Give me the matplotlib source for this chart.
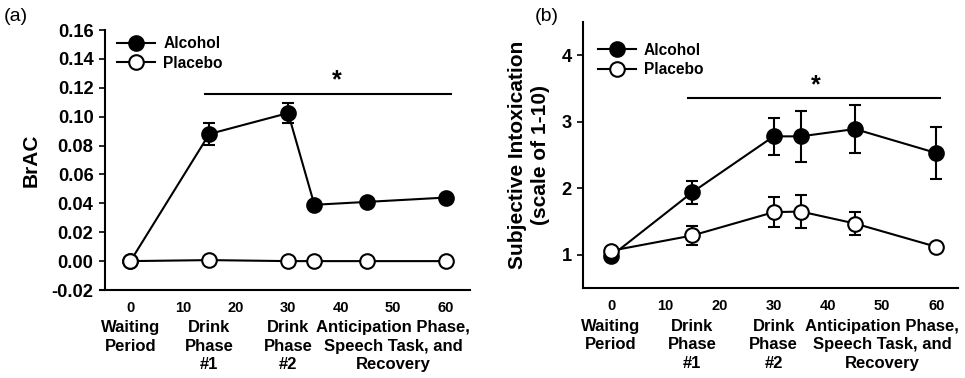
import matplotlib.pyplot as plt
import matplotlib.transforms as mtransforms
from matplotlib.lines import Line2D

times = [0, 15, 30, 35, 45, 60]

brac_alcohol = [0.0, 0.088, 0.1025, 0.039, 0.041, 0.044]
brac_alcohol_err = [0.0, 0.0075, 0.007, 0.0015, 0.0015, 0.0015]
brac_placebo = [0.0, 0.0007, 0.0, 0.0, 0.0, 0.0]
brac_placebo_err = [0.0, 0.0, 0.0, 0.0, 0.0, 0.0]

intox_alcohol = [0.98, 1.94, 2.78, 2.78, 2.89, 2.53]
intox_alcohol_err = [0.03, 0.17, 0.28, 0.38, 0.36, 0.39]
intox_placebo = [1.06, 1.29, 1.64, 1.65, 1.47, 1.12]
intox_placebo_err = [0.03, 0.14, 0.23, 0.245, 0.17, 0.03]

phase_pos = [0, 15, 30, 50]
phase_labels = ["Waiting\nPeriod", "Drink\nPhase\n#1", "Drink\nPhase\n#2",
                "Anticipation Phase,\nSpeech Task, and\nRecovery"]

plt.rcParams['font.family'] = ['Liberation Sans', 'DejaVu Sans']
plt.rcParams['font.weight'] = 'bold'

fig = plt.figure(figsize=(9.65, 3.78), dpi=100)
ax1 = fig.add_axes([0.1036, 0.2328, 0.3834, 0.6878])
ax2 = fig.add_axes([0.604, 0.238, 0.3887, 0.704])


def draw(ax, alc, alc_err, pla, pla_err, leg_anchor):
    ax.errorbar(times, alc, yerr=alc_err, color='black', marker='o', ms=10.5,
                mfc='black', mec='black', mew=1.5, lw=1.5, capsize=4,
                elinewidth=1.5, capthick=1.5, zorder=3)
    ax.errorbar(times, pla, yerr=pla_err, color='black', marker='o', ms=10.5,
                mfc='white', mec='black', mew=1.5, lw=1.5, capsize=4,
                elinewidth=1.5, capthick=1.5, zorder=4)
    for s in ['top', 'right']:
        ax.spines[s].set_visible(False)
    for s in ['left', 'bottom']:
        ax.spines[s].set_linewidth(1.5)
    ax.tick_params(axis='y', direction='out', length=4, width=1.2, labelsize=13.2, pad=4)
    ax.tick_params(axis='x', length=0, labelsize=10.5, pad=8)
    ax.set_xticks([0, 10, 20, 30, 40, 50, 60])
    trans = mtransforms.blended_transform_factory(ax.transData, ax.transAxes)
    for p, t in zip(phase_pos, phase_labels):
        ax.text(p, -0.115, t, transform=trans, ha='center', va='top',
                fontsize=12, fontweight='bold', linespacing=1.3)
    handles = [
        Line2D([], [], color='black', lw=1.5, marker='o', ms=10.5, mfc='black',
               mec='black', mew=1.5),
        Line2D([], [], color='black', lw=1.5, marker='o', ms=10.5, mfc='white',
               mec='black', mew=1.5),
    ]
    ax.legend(handles, ['Alcohol', 'Placebo'], loc='upper left',
              bbox_to_anchor=leg_anchor, frameon=False,
              prop={'size': 11.2, 'weight': 'bold'}, handlelength=2.45,
              handletextpad=0.5, borderaxespad=0, labelspacing=0.3)


draw(ax1, brac_alcohol, brac_alcohol_err, brac_placebo, brac_placebo_err, (0.03, 1.0))
ax1.set_xlim(-5.8, 64.6)
ax1.spines['left'].set_position(('data', -4.9))
ax1.set_ylim(-0.02, 0.16)
ax1.set_yticks([-0.02, 0.0, 0.02, 0.04, 0.06, 0.08, 0.10, 0.12, 0.14, 0.16])
ax1.set_yticklabels(['-0.02', '0.00', '0.02', '0.04', '0.06', '0.08', '0.10',
                     '0.12', '0.14', '0.16'])
ax1.set_ylabel('BrAC', fontsize=15, fontweight='bold', labelpad=8)
ax1.plot([14.2, 61], [0.116, 0.116], color='black', lw=1.5)
ax1.text(39.2, 0.117, '*', ha='center', va='bottom', fontsize=18, fontweight='bold')
fig.text(0.004, 0.98, '(a)', ha='left', va='top', fontsize=14, fontweight='normal')

draw(ax2, intox_alcohol, intox_alcohol_err, intox_placebo, intox_placebo_err, (0.024, 0.945))
ax2.set_xlim(-5.2, 64)
ax2.set_ylim(0.5, 4.5)
ax2.set_yticks([1, 2, 3, 4])
ax2.set_ylabel('Subjective Intoxication\n(scale of 1-10)', fontsize=15,
               fontweight='bold', labelpad=8, linespacing=1.3)
ax2.plot([14.2, 60.6], [3.35, 3.35], color='black', lw=1.5)
ax2.text(37.8, 3.37, '*', ha='center', va='bottom', fontsize=18, fontweight='bold')
fig.text(0.554, 0.98, '(b)', ha='left', va='top', fontsize=14, fontweight='normal')

fig.savefig('out.png', dpi=100)
